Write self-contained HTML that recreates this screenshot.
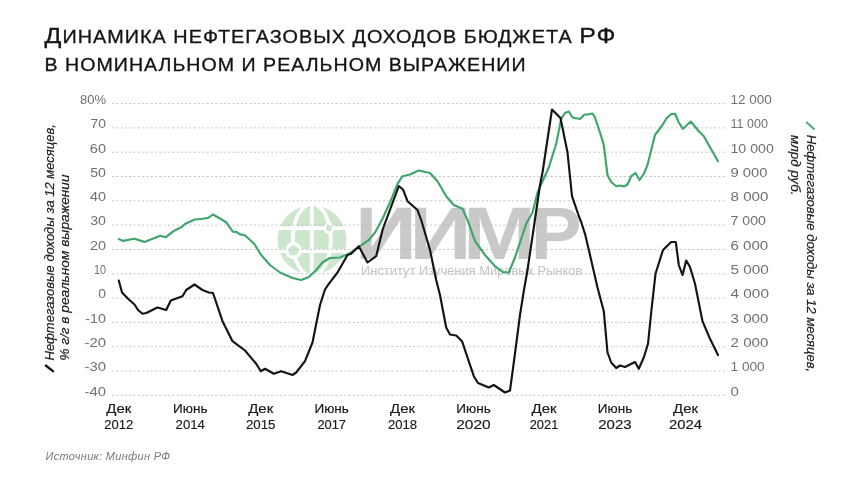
<!DOCTYPE html>
<html lang="ru"><head><meta charset="utf-8"><title>Динамика нефтегазовых доходов бюджета РФ</title>
<style>
html,body{margin:0;padding:0;background:#fff;}
body{width:860px;height:484px;overflow:hidden;font-family:"Liberation Sans",sans-serif;}
svg{display:block;font-family:"Liberation Sans",sans-serif;}
.grid line{stroke:#bcbcbc;stroke-width:0.85;stroke-dasharray:2.1 2.2;}
.ax text{font-size:12px;fill:#707070;}
.xl text{font-size:12.3px;fill:#1a1a1a;stroke:#1a1a1a;stroke-width:0.15;}
.rot text{font-style:italic;fill:#1a1a1a;stroke:#1a1a1a;stroke-width:0.2;}
</style></head><body>
<svg width="860" height="484" viewBox="0 0 860 484">
<rect width="860" height="484" fill="#fff"/>
<!-- title -->
<g fill="#141414">
<text x="44.5" y="43.4" font-size="17.5" letter-spacing="0.9" textLength="572" lengthAdjust="spacingAndGlyphs" stroke="#141414" stroke-width="0.3"><tspan font-size="22">Д</tspan>ИНАМИКА НЕФТЕГАЗОВЫХ ДОХОДОВ БЮДЖЕТА <tspan font-size="22">РФ</tspan></text>
<text x="44.5" y="70.5" font-size="17.5" letter-spacing="0.9" textLength="482" lengthAdjust="spacingAndGlyphs" stroke="#141414" stroke-width="0.3">В НОМИНАЛЬНОМ И РЕАЛЬНОМ ВЫРАЖЕНИИ</text>
</g>
<!-- watermark -->
<g id="wm">
<circle cx="312" cy="239.9" r="34.6" fill="#cde7cf"/>
<g fill="none" stroke="#fff" stroke-width="3.8">
<line x1="311.8" y1="204" x2="311.8" y2="276"/>
<ellipse cx="311.8" cy="239.9" rx="19" ry="36"/>
<line x1="276" y1="228.2" x2="348" y2="228.2"/>
<line x1="276" y1="251" x2="348" y2="251"/>
</g>
<circle cx="329" cy="228.3" r="5.6" fill="#fff"/><circle cx="329" cy="228.3" r="3" fill="#cde7cf"/>
<circle cx="293.5" cy="250.6" r="8.4" fill="#fff"/><circle cx="293.5" cy="250.6" r="5" fill="#cde7cf"/>
<g font-size="74" font-weight="bold" fill="#c9c9c9">
<text transform="translate(354.97,258.6) scale(1.165,1)">И</text>
<text transform="translate(409.4,258.6) scale(1.165,1)">И</text>
<text transform="translate(463.1,258.6) scale(1.178,1)">М</text>
<text transform="translate(530.7,258.6) scale(1.03,1)">Р</text>
</g>
<text transform="translate(361.00,274.60) scale(1.0573,1)" font-size="12.2" fill="#c4c4c4">Институт Изучения Мировых Рынков</text>
</g>
<g class="grid">
<line x1="112" x2="725" y1="103.6" y2="103.6"/>
<line x1="112" x2="725" y1="127.9" y2="127.9"/>
<line x1="112" x2="725" y1="152.2" y2="152.2"/>
<line x1="112" x2="725" y1="176.5" y2="176.5"/>
<line x1="112" x2="725" y1="200.8" y2="200.8"/>
<line x1="112" x2="725" y1="225.1" y2="225.1"/>
<line x1="112" x2="725" y1="249.5" y2="249.5"/>
<line x1="112" x2="725" y1="273.8" y2="273.8"/>
<line x1="112" x2="725" y1="298.1" y2="298.1"/>
<line x1="112" x2="725" y1="322.4" y2="322.4"/>
<line x1="112" x2="725" y1="346.7" y2="346.7"/>
<line x1="112" x2="725" y1="371.0" y2="371.0"/>
<line x1="112" x2="725" y1="395.3" y2="395.3"/>
</g>
<g class="ax">
<text transform="translate(79.90,103.90) scale(1.0867,1)" font-size="12">80%</text>
<text transform="translate(90.60,128.21) scale(1.1538,1)" font-size="12">70</text>
<text transform="translate(89.80,152.52) scale(1.2137,1)" font-size="12">60</text>
<text transform="translate(90.20,176.83) scale(1.1837,1)" font-size="12">50</text>
<text transform="translate(90.00,201.14) scale(1.1987,1)" font-size="12">40</text>
<text transform="translate(90.20,225.45) scale(1.1837,1)" font-size="12">30</text>
<text transform="translate(90.00,249.76) scale(1.1987,1)" font-size="12">20</text>
<text transform="translate(94.00,274.07) scale(0.8990,1)" font-size="12">10</text>
<text transform="translate(98.30,298.38) scale(1.1538,1)" font-size="12">0</text>
<text transform="translate(85.20,322.69) scale(1.1993,1)" font-size="12">-10</text>
<text transform="translate(84.50,347.00) scale(1.2396,1)" font-size="12">-20</text>
<text transform="translate(84.50,371.31) scale(1.2396,1)" font-size="12">-30</text>
<text transform="translate(84.50,395.62) scale(1.2396,1)" font-size="12">-40</text>
<text transform="translate(730.50,103.90) scale(1.1252,1)" font-size="12">12 000</text>
<text transform="translate(730.50,128.21) scale(1.0443,1)" font-size="12">11 000</text>
<text transform="translate(730.50,152.52) scale(1.1797,1)" font-size="12">10 000</text>
<text transform="translate(730.50,176.83) scale(1.2321,1)" font-size="12">9 000</text>
<text transform="translate(730.50,201.14) scale(1.2654,1)" font-size="12">8 000</text>
<text transform="translate(730.50,225.45) scale(1.1822,1)" font-size="12">7 000</text>
<text transform="translate(730.50,249.76) scale(1.2554,1)" font-size="12">6 000</text>
<text transform="translate(730.50,274.07) scale(1.2754,1)" font-size="12">5 000</text>
<text transform="translate(730.50,298.38) scale(1.2821,1)" font-size="12">4 000</text>
<text transform="translate(730.50,322.69) scale(1.2654,1)" font-size="12">3 000</text>
<text transform="translate(730.50,347.00) scale(1.2654,1)" font-size="12">2 000</text>
<text transform="translate(730.50,371.31) scale(1.1389,1)" font-size="12">1 000</text>
<text transform="translate(730.50,395.62) scale(1.2437,1)" font-size="12">0</text>
</g>
<g class="xl">
<text transform="translate(106.25,413.00) scale(1.2164,1)" font-size="12.3">Дек</text><text transform="translate(104.25,429.30) scale(1.0598,1)" font-size="12.3">2012</text>
<text transform="translate(173.00,413.00) scale(1.1034,1)" font-size="12.3">Июнь</text><text transform="translate(175.60,429.30) scale(1.0708,1)" font-size="12.3">2014</text>
<text transform="translate(248.20,413.00) scale(1.2164,1)" font-size="12.3">Дек</text><text transform="translate(245.90,429.30) scale(1.0818,1)" font-size="12.3">2015</text>
<text transform="translate(314.45,413.00) scale(1.1034,1)" font-size="12.3">Июнь</text><text transform="translate(317.40,429.30) scale(1.0452,1)" font-size="12.3">2017</text>
<text transform="translate(390.00,413.00) scale(1.2164,1)" font-size="12.3">Дек</text><text transform="translate(387.90,429.30) scale(1.0671,1)" font-size="12.3">2018</text>
<text transform="translate(456.25,413.00) scale(1.1034,1)" font-size="12.3">Июнь</text><text transform="translate(456.25,429.30) scale(1.2608,1)" font-size="12.3">2020</text>
<text transform="translate(531.50,413.00) scale(1.2164,1)" font-size="12.3">Дек</text><text transform="translate(529.65,429.30) scale(1.0489,1)" font-size="12.3">2021</text>
<text transform="translate(597.75,413.00) scale(1.1034,1)" font-size="12.3">Июнь</text><text transform="translate(598.25,429.30) scale(1.2243,1)" font-size="12.3">2023</text>
<text transform="translate(673.00,413.00) scale(1.2164,1)" font-size="12.3">Дек</text><text transform="translate(669.00,429.30) scale(1.2060,1)" font-size="12.3">2024</text>
</g>
<path d="M118.9,239.1 L123.0,240.9 L134.2,238.7 L144.4,241.9 L160.2,235.7 L165.8,237.2 L174.2,230.7 L181.6,227.0 L185.3,223.8 L194.7,219.5 L201.2,219.0 L208.6,217.7 L212.9,214.5 L226.3,222.3 L232.8,231.6 L236.5,232.0 L240.2,234.4 L244.9,235.3 L254.2,243.7 L261.2,255.0 L270.0,265.0 L280.0,272.5 L292.5,278.0 L301.2,280.0 L308.8,277.0 L316.2,270.0 L322.5,262.5 L330.0,258.0 L340.0,257.5 L348.8,253.8 L360.0,246.2 L368.8,240.0 L375.0,232.5 L382.5,218.8 L390.0,202.5 L397.5,183.8 L402.5,176.2 L410.0,174.5 L418.8,170.5 L430.0,173.0 L437.5,181.2 L446.2,196.2 L453.8,205.0 L462.5,208.8 L467.5,220.0 L475.0,241.2 L485.0,255.0 L495.0,266.2 L502.5,272.0 L508.8,272.5 L515.0,257.5 L522.5,235.0 L526.2,223.8 L532.5,212.5 L537.5,192.5 L548.8,167.5 L556.2,143.8 L561.2,118.8 L565.0,113.0 L568.8,111.5 L572.5,117.5 L580.0,119.0 L584.5,114.5 L587.5,114.5 L592.5,113.5 L595.0,117.5 L600.0,132.5 L603.8,145.0 L607.5,175.0 L611.2,182.0 L616.2,186.2 L620.0,185.5 L623.8,186.5 L627.5,184.5 L631.2,176.2 L635.5,173.0 L639.5,180.0 L643.8,173.8 L647.5,165.0 L655.0,135.0 L662.5,125.0 L666.2,118.8 L671.2,114.0 L675.0,113.8 L678.8,122.5 L683.0,128.8 L690.8,121.5 L698.8,131.2 L703.8,136.2 L718.0,161.2" fill="none" stroke="#3fa56c" stroke-width="2.15" stroke-linejoin="round" stroke-linecap="round"/>
<path d="M118.8,280.5 L122.0,292.5 L128.8,299.5 L134.5,304.5 L138.0,310.0 L142.5,313.8 L146.2,313.0 L157.5,307.5 L166.2,310.0 L170.8,300.5 L182.5,296.2 L186.2,290.0 L194.5,284.5 L202.5,290.0 L208.8,292.5 L213.0,293.0 L222.5,321.2 L232.5,341.2 L245.0,350.5 L256.2,363.8 L260.8,371.2 L265.0,368.8 L273.8,373.8 L281.2,371.2 L292.5,375.0 L296.2,372.5 L305.0,361.2 L312.5,342.5 L320.0,305.0 L325.0,289.5 L328.8,283.8 L337.5,272.5 L347.5,255.0 L351.2,253.8 L358.8,246.2 L367.5,262.5 L376.2,256.2 L382.5,230.0 L398.8,186.2 L403.0,189.5 L407.5,201.2 L417.5,210.0 L421.2,220.0 L430.0,250.0 L436.2,280.0 L440.0,295.0 L446.2,327.5 L450.0,334.5 L456.2,335.5 L462.0,341.2 L467.5,357.5 L473.8,376.2 L478.0,383.0 L488.8,387.5 L493.8,385.0 L505.0,392.5 L510.0,390.5 L513.8,362.5 L520.0,315.0 L523.8,291.0 L527.5,270.0 L533.8,227.5 L540.0,185.0 L542.5,172.5 L552.0,109.5 L560.5,118.0 L567.5,152.5 L572.0,196.2 L578.8,216.0 L581.2,222.0 L585.0,233.8 L590.0,255.0 L597.5,287.5 L603.8,311.2 L607.5,352.5 L611.2,362.5 L616.2,368.0 L620.0,365.5 L625.0,367.0 L635.0,362.0 L638.8,368.8 L643.8,357.5 L648.0,343.8 L651.2,312.5 L655.5,273.8 L663.0,250.0 L671.2,242.0 L675.8,242.0 L678.8,265.0 L682.5,275.0 L686.2,260.5 L690.0,267.0 L695.0,283.8 L702.5,321.2 L710.0,338.8 L718.0,355.0" fill="none" stroke="#141414" stroke-width="2.15" stroke-linejoin="round" stroke-linecap="round"/>
<!-- rotated axis titles -->
<g class="rot">
<line x1="45.2" y1="365" x2="53.8" y2="371.8" stroke="#141414" stroke-width="2.3"/>
<text transform="translate(53.8,360.5) rotate(-90) scale(0.9856,1)" font-size="13.2">Нефтегазовые доходы за 12 месяцев,</text>
<text transform="translate(69.3,360.8) rotate(-90) scale(1.0395,1)" font-size="13.2">% г/г в реальном выражении</text>
<line x1="806.2" y1="122" x2="814.5" y2="129.6" stroke="#45aa72" stroke-width="2"/>
<text transform="translate(806.8,134.8) rotate(90) scale(0.9898,1)" font-size="13.2">Нефтегазовые доходы за 12 месяцев,</text>
<text transform="translate(790.8,135) rotate(90) scale(1.0137,1)" font-size="13.2">млрд руб.</text>
</g>
<text x="45.5" y="459.5" font-size="11" font-style="italic" fill="#7a7a7a" textLength="124.5" lengthAdjust="spacing">Источник: Минфин РФ</text>
</svg>
</body></html>
